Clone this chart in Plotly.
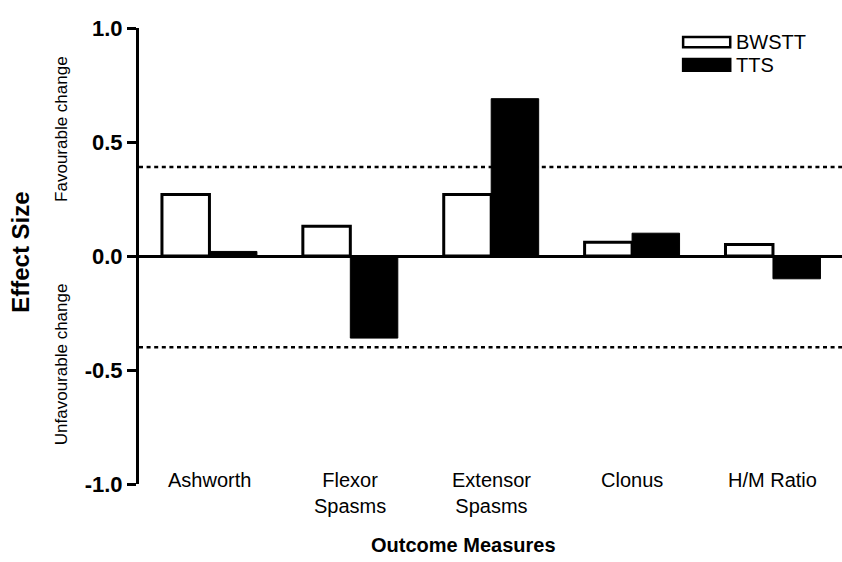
import plotly.graph_objects as go

# Effect sizes per outcome measure for the two training interventions
measures = ["Ashworth", "Flexor<br>Spasms", "Extensor<br>Spasms", "Clonus", "H/M Ratio"]
bwstt = [0.27, 0.13, 0.27, 0.06, 0.05]
tts = [0.02, -0.36, 0.69, 0.10, -0.10]

# Thresholds for a meaningful change
favourable_cut = 0.39
unfavourable_cut = -0.40

y_ticks = [-1.0, -0.5, 0.0, 0.5, 1.0]
y_tick_text = ["-1.0", "-0.5", "0.0", "0.5", "1.0"]

FONT = "Liberation Sans, Arial, Helvetica, sans-serif"
x_pos = list(range(len(measures)))

fig = go.Figure()
fig.add_trace(go.Bar(
    x=x_pos, y=bwstt, name="BWSTT",
    marker=dict(color="white", line=dict(color="black", width=3)),
))
fig.add_trace(go.Bar(
    x=x_pos, y=tts, name="TTS",
    marker=dict(color="black", line=dict(color="black", width=1)),
))

# Dotted reference lines for favourable / unfavourable change
for cut in (favourable_cut, unfavourable_cut):
    fig.add_shape(type="line", xref="paper", x0=0, x1=1, y0=cut, y1=cut,
                  line=dict(color="black", width=2.5, dash="4px,3.6px"), layer="below")

# Category labels sitting inside the lower part of the plot
for i, name in enumerate(measures):
    fig.add_annotation(x=i, xref="x", y=0.035, yref="paper", text=name,
                       showarrow=False, yanchor="top", xanchor="center",
                       font=dict(family=FONT, size=20, color="black"), borderpad=0)

text_items = [
    ("Outcome Measures", 0.462, -0.134, 0, 20, "bold"),
    ("Effect Size", -0.168, 0.509, -90, 24, "bold"),
    ("Favourable change", -0.110, 0.778, -90, 17, "normal"),
    ("Unfavourable change", -0.110, 0.262, -90, 17, "normal"),
]
for text, xp, yp, angle, size, weight in text_items:
    fig.add_annotation(x=xp, xref="paper", y=yp, yref="paper", text=text,
                       textangle=angle, showarrow=False,
                       xanchor="center", yanchor="middle",
                       font=dict(family=FONT, size=size, color="black", weight=weight))

# Legend keys
legend_items = [("BWSTT", "white", 0.980, 0.958), ("TTS", "black", 0.932, 0.906)]
for label, fill, ytop, ybot in legend_items:
    fig.add_shape(type="rect", xref="paper", yref="paper",
                  x0=0.774, x1=0.841, y0=ybot, y1=ytop,
                  fillcolor=fill, line=dict(color="black", width=2.5))
    fig.add_annotation(x=0.848, xref="paper", y=(ytop + ybot) / 2, yref="paper",
                       text=label, showarrow=False, xanchor="left", yanchor="middle",
                       font=dict(family=FONT, size=20, color="black"), borderpad=0)

fig.update_layout(
    width=842, height=562,
    margin=dict(l=139, r=0, t=28, b=78),
    paper_bgcolor="white", plot_bgcolor="white",
    barmode="group", bargap=0.326, bargroupgap=0,
    showlegend=False,
    font=dict(family=FONT, color="black"),
)
fig.update_xaxes(range=[-0.5, 4.49], visible=False)
fig.update_yaxes(
    range=[-1, 1], tickvals=y_ticks, ticktext=y_tick_text,
    showgrid=False, showline=True, linecolor="black", linewidth=3,
    ticks="outside", ticklen=9, tickwidth=3, tickcolor="black",
    zeroline=True, zerolinecolor="black", zerolinewidth=3,
    tickfont=dict(family=FONT, size=22, color="black", weight="bold"),
)

fig.write_html("out.html")
